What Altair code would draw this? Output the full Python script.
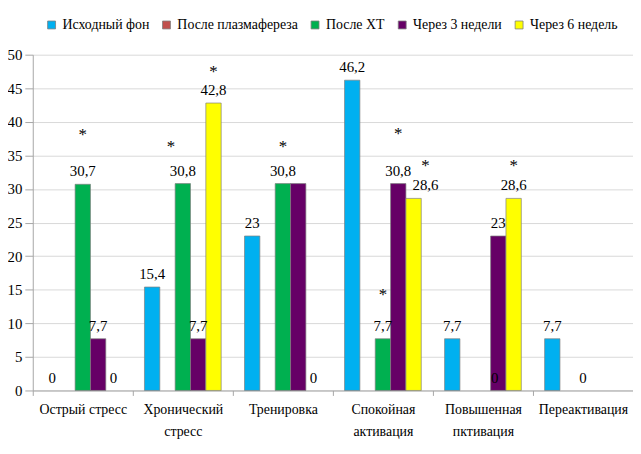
import altair as alt
import pandas as pd

categories = ["Острый стресс", "Хронический стресс", "Тренировка",
              "Спокойная активация", "Повышенная пктивация", "Переактивация"]
series_names = ["Исходный фон", "После плазмафереза", "После ХТ",
                "Через 3 недели", "Через 6 недель"]
colors = ["#00B0F0", "#C0504D", "#00B050", "#660066", "#FFFF00"]

v_base = [0, 15.4, 23, 46.2, 7.7, 7.7]
v_plasma = [0, 0, 0, 0, 0, 0]
v_xt = [30.7, 30.8, 30.8, 7.7, 0, 0]
v_w3 = [7.7, 7.7, 30.8, 30.8, 23, 0]
v_w6 = [0, 42.8, 0, 28.6, 28.6, 0]

# which values carry a data label
l_base = [1, 1, 1, 1, 1, 1]
l_plasma = [0, 0, 0, 0, 0, 0]
l_xt = [1, 1, 1, 1, 1, 1]
l_w3 = [1, 1, 0, 1, 1, 0]
l_w6 = [1, 1, 1, 1, 1, 0]

# significance marks (*) : category, series, level
star_cat = ["Острый стресс", "Хронический стресс", "Хронический стресс", "Тренировка",
            "Спокойная активация", "Спокойная активация", "Спокойная активация",
            "Повышенная пктивация"]
star_ser = ["После ХТ", "После ХТ", "Через 6 недель", "После ХТ",
            "После ХТ", "Через 3 недели", "Через 6 недель", "Через 6 недель"]
star_lvl = [38.2, 36.4, 47.6, 36.4, 14.3, 38.3, 33.6, 33.6]


def fmt(v):
    s = ("%g" % v)
    return s.replace(".", ",")


rows = []
for s, vals, labs in zip(series_names, [v_base, v_plasma, v_xt, v_w3, v_w6],
                         [l_base, l_plasma, l_xt, l_w3, l_w6]):
    for c, v, l in zip(categories, vals, labs):
        rows.append(dict(cat=c, ser=s, val=v, show=l, txt=fmt(v)))
df = pd.DataFrame(rows)
df_star = pd.DataFrame(dict(cat=star_cat, ser=star_ser, val=star_lvl, txt=["*"] * len(star_cat)))

FONT = "Times New Roman"

x_enc = alt.X("cat:N", sort=categories,
              scale=alt.Scale(paddingInner=0, paddingOuter=0),
              axis=alt.Axis(title=None, labelAngle=0, tickBand="extent", ticks=True,
                            tickSize=5, tickColor="#a6a6a6", domainColor="#a6a6a6",
                            labelFont=FONT, labelFontSize=14, labelColor="black",
                            labelPadding=7, labelLineHeight=22, grid=False,
                            labelExpr="datum.label == 'Острый стресс' ? datum.label : split(datum.label, ' ')"))
xo_enc = alt.XOffset("ser:N", sort=series_names,
                     scale=alt.Scale(domain=series_names, paddingInner=0, paddingOuter=0.76))
y_enc = alt.Y("val:Q", scale=alt.Scale(domain=[0, 50], nice=False),
              axis=alt.Axis(title=None, values=list(range(0, 51, 5)), grid=True,
                            gridColor="#d9d9d9", domainColor="#a6a6a6", tickColor="#a6a6a6",
                            tickSize=8, labelFont=FONT, labelFontSize=15, labelColor="black",
                            labelPadding=3))

color_enc = alt.Color("ser:N", sort=series_names,
                      scale=alt.Scale(domain=series_names, range=colors),
                      legend=alt.Legend(title=None, orient="none", legendX=12, legendY=-37,
                                        direction="horizontal", symbolType="square",
                                        symbolSize=64, symbolStrokeColor="#7f7f7f",
                                        symbolStrokeWidth=0.8, labelFont=FONT,
                                        labelFontSize=14, labelColor="black",
                                        labelOffset=4, columnPadding=10))

base = alt.Chart(df)

bars = base.transform_filter("datum.val > 0").mark_bar(
    stroke="#7f7f7f", strokeWidth=0.7
).encode(x=x_enc, xOffset=xo_enc, y=y_enc, color=color_enc)

shifted = "(datum.cat == 'Спокойная активация' && datum.ser == 'Через 6 недель') || (datum.cat == 'Повышенная пктивация' && datum.ser == 'После ХТ')"

labels = base.transform_filter("datum.show == 1 && !(" + shifted + ")").mark_text(
    font=FONT, fontSize=15, baseline="alphabetic", dy=-8, color="black"
).encode(x=x_enc, xOffset=xo_enc, y=y_enc, text="txt:N")

labels_sh = base.transform_filter("datum.show == 1 && (" + shifted + ")").mark_text(
    font=FONT, fontSize=15, baseline="alphabetic", dy=-8, dx=12, color="black"
).encode(x=x_enc, xOffset=xo_enc, y=y_enc, text="txt:N")

star_right = "datum.cat == 'Спокойная активация' && datum.ser == 'Через 6 недель'"
star_left = "datum.cat == 'Хронический стресс' && datum.ser == 'После ХТ'"

sbase = alt.Chart(df_star)
stars = sbase.transform_filter("!(" + star_right + ") && !(" + star_left + ")").mark_text(
    font=FONT, fontSize=17, baseline="middle", dy=1, color="black"
).encode(x=x_enc, xOffset=xo_enc, y=y_enc, text="txt:N")
stars_r = sbase.transform_filter(star_right).mark_text(
    font=FONT, fontSize=17, baseline="middle", dy=1, dx=12, color="black"
).encode(x=x_enc, xOffset=xo_enc, y=y_enc, text="txt:N")
stars_l = sbase.transform_filter(star_left).mark_text(
    font=FONT, fontSize=17, baseline="middle", dy=1, dx=-12, color="black"
).encode(x=x_enc, xOffset=xo_enc, y=y_enc, text="txt:N")

chart = alt.layer(bars, labels, labels_sh, stars, stars_r, stars_l).properties(
    width=606, height=339,
    autosize=alt.AutoSizeParams(type="none"),
    padding={"left": 25, "top": 45, "right": 0, "bottom": 60},
).configure_view(stroke=None)

chart.save("out.html", embed_options={"renderer": "svg", "actions": False})
